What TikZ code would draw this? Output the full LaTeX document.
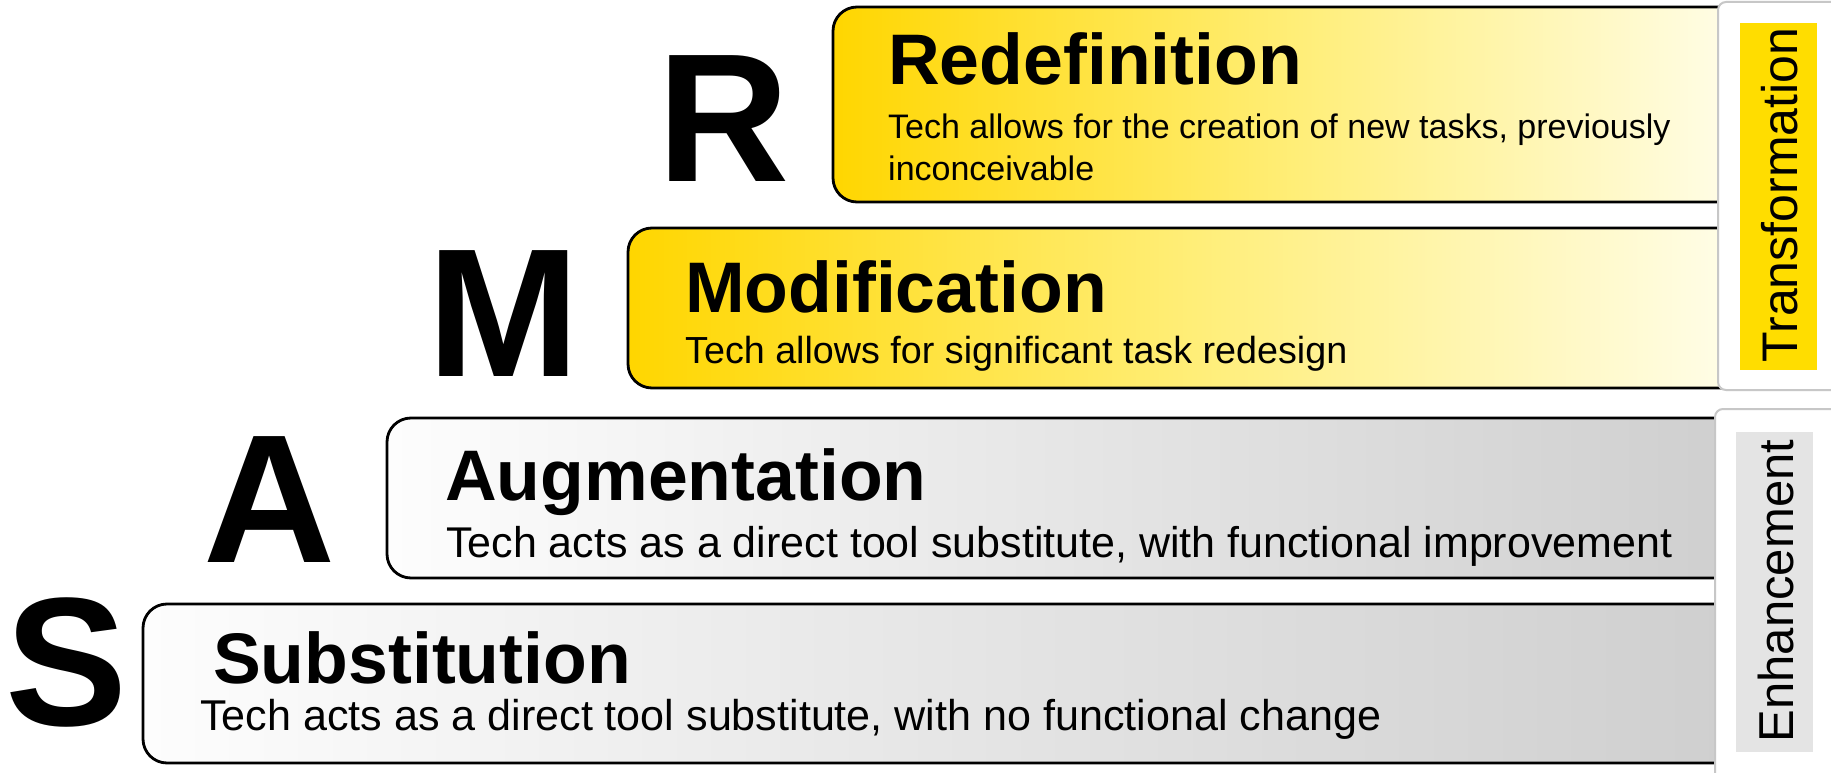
\documentclass[tikz,border=0pt]{standalone}
\usepackage{fontspec}
\setmainfont{Liberation Sans}
\definecolor{ylw}{RGB}{255,214,0}
\definecolor{ylwmid}{RGB}{255,238,120}
\definecolor{ylwend}{RGB}{255,254,238}
\definecolor{gryL}{RGB}{253,253,253}
\definecolor{gryR}{RGB}{206,206,206}
\definecolor{tagY}{RGB}{255,221,0}
\definecolor{tagG}{RGB}{228,228,228}
\tikzset{
  boxframe/.style={draw=black, line width=2.8pt, rounded corners=24pt},
  yelbox/.style={boxframe, left color=ylw, right color=ylwend, middle color=ylwmid},
  greybox/.style={boxframe, left color=gryL, right color=gryR},
  bigletter/.style={anchor=base, inner sep=0pt, font=\fontsize{183}{183}\selectfont\bfseries},
  titletext/.style={anchor=base west, inner sep=0pt, font=\fontsize{71.6}{80}\selectfont\bfseries},
  subtext/.style={anchor=base west, inner sep=0pt},
  panel/.style={fill=white, draw=black!22, line width=2pt, rounded corners=8pt},
  tagtext/.style={anchor=base, inner sep=0pt, rotate=90}
}
\begin{document}
\begin{tikzpicture}[x=1pt,y=-1pt]
\useasboundingbox (0,0) rectangle (1831,773);
\clip (0,0) rectangle (1831,773);
\fill[white] (0,0) rectangle (1831,773);

% boxes
\path[yelbox] (833,7) rectangle (1760,202);
\path[yelbox] (628,228) rectangle (1760,388);
\path[greybox] (387,418) rectangle (1760,578);
\path[greybox] (143,604) rectangle (1760,763);

% big letters
\node[bigletter] (R) at (724,182) {R};
\node[bigletter] (M) at (504,376) {M};
\node[bigletter] (A) at (270,562) {A};
\node[bigletter] (S) at (67,725) {S};

% box texts
\node[titletext] (Rt) at (888,85) {Redefinition};
\node[subtext, font=\fontsize{34}{40}\selectfont] (Rs1) at (888,139) {Tech allows for the creation of new tasks, previously};
\node[subtext, font=\fontsize{34}{40}\selectfont] (Rs2) at (888,180) {inconceivable};

\node[titletext] (Mt) at (685,312) {Modification};
\node[subtext, font=\fontsize{37.7}{44}\selectfont] (Ms) at (685,363) {Tech allows for significant task redesign};

\node[titletext] (At) at (445,500) {Augmentation};
\node[subtext, font=\fontsize{43}{50}\selectfont] (As) at (446,557) {Tech acts as a direct tool substitute, with functional improvement};

\node[titletext] (St) at (213,683) {Substitution};
\node[subtext, font=\fontsize{43.1}{50}\selectfont] (Ss) at (200,730) {Tech acts as a direct tool substitute, with no functional change};

% right panels
\path[panel] (1718,2) rectangle (1860,390);
\fill[tagY] (1740,23) rectangle (1817,370);
\node[tagtext, font=\fontsize{50}{56}\selectfont] (T) at (1797,195) {Transformation};

\path[panel] (1715,409) rectangle (1860,790);
\fill[tagG] (1736,432) rectangle (1813,752);
\node[tagtext, font=\fontsize{49}{56}\selectfont] (E) at (1793,591) {Enhancement};
\end{tikzpicture}
\end{document}
